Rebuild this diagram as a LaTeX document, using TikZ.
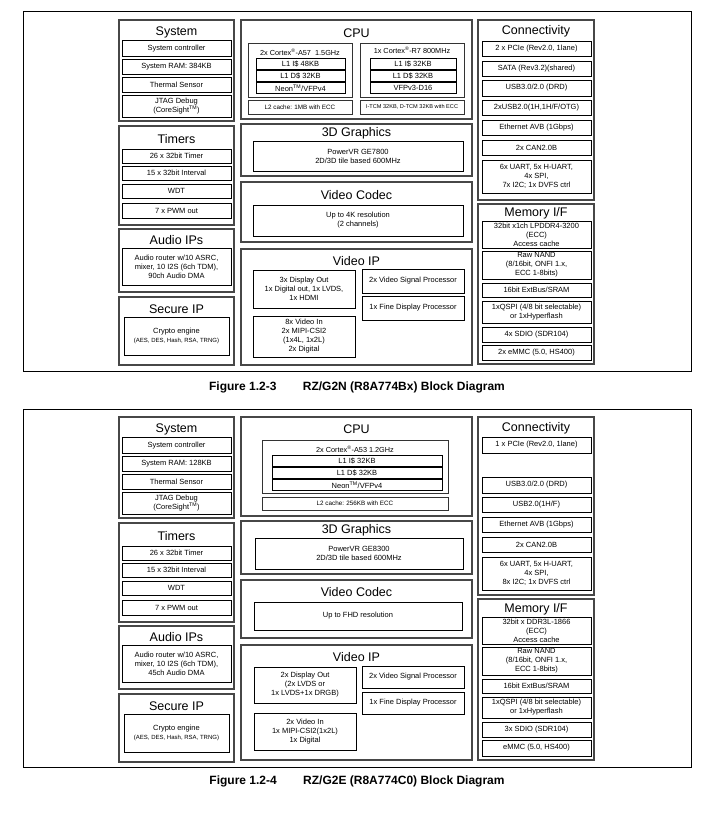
\documentclass[tikz,border=0pt]{standalone}
\usepackage{fontspec}
\setmainfont{Liberation Sans}
\tikzset{
 ibox/.style={draw=black,line width=0.9pt,inner sep=0pt,align=center,font=\fontsize{7.5}{9}\selectfont},
 cbox/.style={draw=black!72,line width=1.2pt},
 gbox/.style={draw=black!80,line width=0.8pt},
 frm/.style={draw=black,line width=0.8pt},
 ttl/.style={font=\fontsize{12.5}{14}\selectfont,inner sep=0pt},
 lbl/.style={font=\fontsize{7.3}{9}\selectfont,inner sep=0pt},
 smallt/.style={font=\fontsize{6.3}{7.5}\selectfont},
 tinyt/.style={font=\fontsize{5.6}{6.5}\selectfont},
 figcap/.style={font=\bfseries\fontsize{12}{14}\selectfont,inner sep=0pt},
}
% #1 options, #2 name, #3 x1, #4 y1, #5 x2, #6 y2, #7 text
\newcommand\bx[7][]{\node[ibox,#1,minimum width={(#5-#3)*1pt},minimum height={(#6-#4)*1pt}] (#2) at ({(#3+#5)/2},{(#4+#6)/2}) {#7};}
% left column: #1 suffix, #2 RAM, #3 DMA channels
\newcommand\leftcol[3]{%
 \bx[cbox]{sys#1}{119}{20}{234}{121}{}
 \node[ttl] (sysT#1) at (176.5,32.5) {System};
 \bx{sc#1}{122}{40.5}{231}{56}{System controller}
 \bx{ram#1}{122}{59}{231}{74}{System RAM: #2}
 \bx{th#1}{122}{77}{231}{92}{Thermal Sensor}
 \bx{jt#1}{122}{95}{231}{117}{JTAG Debug\\(CoreSight\textsuperscript{TM})}
 \bx[cbox]{tim#1}{119}{126}{234}{225}{}
 \node[ttl] (timT#1) at (176.5,139) {Timers};
 \bx{ta#1}{122}{149}{231}{163}{26 x 32bit Timer}
 \bx{tb#1}{122}{166}{231}{180}{15 x 32bit Interval}
 \bx{tc#1}{122}{184}{231}{198}{WDT}
 \bx{td#1}{122}{203}{231}{218}{7 x PWM out}
 \bx[cbox]{aud#1}{119}{229}{234}{292}{}
 \node[ttl] (audT#1) at (176.5,240.5) {Audio IPs};
 \bx{au#1}{122}{248}{231}{285}{Audio router w/10 ASRC,\\mixer, 10 I2S (6ch TDM),\\#3 Audio DMA}
 \bx[cbox]{sec#1}{119}{297}{234}{365}{}
 \node[ttl] (secT#1) at (176.5,309.5) {Secure IP};
 \bx{cr#1}{124}{317}{229}{355}{Crypto engine\\{\fontsize{6}{7.5}\selectfont(AES, DES, Hash, RSA, TRNG)}}
}
\begin{document}
\begin{tikzpicture}[x=1pt,y=-1pt]
\useasboundingbox (0,0) rectangle (714,815);
% ================= Diagram A =================
\bx[frm]{frameA}{23}{11}{691}{371}{}
\leftcol{A}{384KB}{90ch}
% CPU
\bx[cbox]{cpuA}{241}{20}{472}{119}{}
\node[ttl] (cpuTA) at (356.5,33) {CPU};
\bx[gbox]{a57A}{248}{43}{352}{97}{}
\node[lbl] (a57LA) at (300,52) {2x Cortex\textsuperscript{®}-A57\ \ 1.5GHz};
\bx{l1iA}{256}{58.5}{345}{69.5}{L1 I\$ 48KB}
\bx{l1dA}{256}{70.5}{345}{81.5}{L1 D\$ 32KB}
\bx{neonA}{256}{82.5}{345}{93.5}{Neon\textsuperscript{TM}/VFPv4}
\bx[gbox,smallt]{l2A}{248}{100}{352}{114}{L2 cache: 1MB with ECC}
\bx[gbox]{r7A}{360}{43}{464}{97}{}
\node[lbl] (r7LA) at (412,50.5) {1x Cortex\textsuperscript{®}-R7 800MHz};
\bx{r1iA}{370}{58.5}{456}{69.5}{L1 I\$ 32KB}
\bx{r1dA}{370}{70.5}{456}{81.5}{L1 D\$ 32KB}
\bx{vfpA}{370}{82.5}{456}{93.5}{VFPv3-D16}
\bx[gbox,tinyt]{tcmA}{360}{100}{464}{114}{I-TCM 32KB, D-TCM 32KB with ECC}
% 3D graphics
\bx[cbox]{gfxA}{241}{124}{472}{176}{}
\node[ttl] (gfxTA) at (356.5,133) {3D Graphics};
\bx{gpuA}{253}{141}{463}{171}{PowerVR GE7800\\2D/3D tile based 600MHz}
% Video codec
\bx[cbox]{vcA}{241}{182}{472}{242}{}
\node[ttl] (vcTA) at (356.5,195.5) {Video Codec};
\bx{vciA}{253}{205}{463}{236}{Up to 4K resolution\\(2 channels)}
% Video IP
\bx[cbox]{vipA}{241}{249}{472}{365}{}
\node[ttl] (vipTA) at (356.5,261) {Video IP};
\bx{doutA}{253}{270}{355}{308}{3x Display Out\\1x Digital out, 1x LVDS,\\1x HDMI}
\bx{vinA}{253}{316}{355}{357}{8x Video In\\2x MIPI-CSI2\\(1x4L, 1x2L)\\2x Digital}
\bx{vspA}{362}{269}{464}{293}{2x Video Signal Processor}
\bx{fdpA}{362}{296}{464}{320}{1x Fine Display Processor}
% Connectivity
\bx[cbox]{conA}{478}{20}{594}{200}{}
\node[ttl] (conTA) at (536,31.5) {Connectivity};
\bx{pcieA}{482}{41}{591}{56}{2 x PCIe (Rev2.0, 1lane)}
\bx{sataA}{482}{61}{591}{76}{SATA (Rev3.2)(shared)}
\bx{usb3A}{482}{80}{591}{96}{USB3.0/2.0 (DRD)}
\bx{usb2A}{482}{100}{591}{115}{2xUSB2.0(1H,1H/F/OTG)}
\bx{ethA}{482}{120}{591}{135}{Ethernet AVB (1Gbps)}
\bx{canA}{482}{140}{591}{155}{2x CAN2.0B}
\bx{uartA}{482}{160}{591}{193}{6x UART, 5x H-UART,\\4x SPI,\\7x I2C; 1x DVFS ctrl}
% Memory I/F
\bx[cbox]{memA}{478}{204}{594}{364}{}
\node[ttl] (memTA) at (536,213.5) {Memory I/F};
\bx{ddrA}{482}{221}{591}{248}{32bit x1ch LPDDR4-3200\\(ECC)\\Access cache}
\bx{nandA}{482}{251}{591}{279}{Raw NAND\\(8/16bit, ONFI 1.x,\\ECC 1-8bits)}
\bx{extA}{482}{283}{591}{297}{16bit ExtBus/SRAM}
\bx{qspiA}{482}{301}{591}{323}{1xQSPI (4/8 bit selectable)\\or 1xHyperflash}
\bx{sdioA}{482}{327}{591}{342}{4x SDIO (SDR104)}
\bx{emmcA}{482}{345}{591}{360}{2x eMMC (5.0, HS400)}
\node[figcap] (capA) at (357,387) {Figure 1.2-3\hspace{2.2em}RZ/G2N (R8A774Bx) Block Diagram};
% ================= Diagram B =================
\begin{scope}[yshift=-397pt]
\bx[frm]{frameB}{23}{12}{691}{370}{}
\leftcol{B}{128KB}{45ch}
% CPU
\bx[cbox]{cpuB}{241}{20}{472}{119}{}
\node[ttl] (cpuTB) at (356.5,32.5) {CPU};
\bx[gbox]{a53B}{262}{43}{448}{96}{}
\node[lbl] (a53LB) at (355,52) {2x Cortex\textsuperscript{®}-A53 1.2GHz};
\bx{l1iB}{272}{58.5}{442}{69.5}{L1 I\$ 32KB}
\bx{l1dB}{272}{70.5}{442}{81.5}{L1 D\$ 32KB}
\bx{neonB}{272}{82.5}{442}{93.5}{Neon\textsuperscript{TM}/VFPv4}
\bx[gbox,smallt]{l2B}{262}{100}{448}{113}{L2 cache: 256KB with ECC}
% 3D graphics
\bx[cbox]{gfxB}{241}{124}{472}{177}{}
\node[ttl] (gfxTB) at (356.5,133) {3D Graphics};
\bx{gpuB}{255}{141}{463}{172}{PowerVR GE8300\\2D/3D tile based 600MHz}
% Video codec
\bx[cbox]{vcB}{241}{183}{472}{241}{}
\node[ttl] (vcTB) at (356.5,195.5) {Video Codec};
\bx{vciB}{254}{205}{462}{233}{Up to FHD resolution}
% Video IP
\bx[cbox]{vipB}{241}{248}{472}{363}{}
\node[ttl] (vipTB) at (356.5,260.5) {Video IP};
\bx{doutB}{254}{270}{356}{306}{2x Display Out\\(2x LVDS or\\1x LVDS+1x DRGB)}
\bx{vinB}{254}{316}{356}{353}{2x Video In\\1x MIPI-CSI2(1x2L)\\1x Digital}
\bx{vspB}{362}{269}{464}{291}{2x Video Signal Processor}
\bx{fdpB}{362}{295}{464}{317}{1x Fine Display Processor}
% Connectivity
\bx[cbox]{conB}{478}{20}{594}{198}{}
\node[ttl] (conTB) at (536,31.5) {Connectivity};
\bx{pcieB}{482}{40}{591}{56}{1 x PCIe (Rev2.0, 1lane)}
\bx{usb3B}{482}{80}{591}{96}{USB3.0/2.0 (DRD)}
\bx{usb2B}{482}{100}{591}{115}{USB2.0(1H/F)}
\bx{ethB}{482}{120}{591}{135}{Ethernet AVB (1Gbps)}
\bx{canB}{482}{140}{591}{155}{2x CAN2.0B}
\bx{uartB}{482}{160}{591}{193}{6x UART, 5x H-UART,\\4x SPI,\\8x I2C; 1x DVFS ctrl}
% Memory I/F
\bx[cbox]{memB}{478}{202}{594}{363}{}
\node[ttl] (memTB) at (536,212) {Memory I/F};
\bx{ddrB}{482}{220}{591}{247}{32bit x DDR3L-1866\\(ECC)\\Access cache}
\bx{nandB}{482}{250}{591}{278}{Raw NAND\\(8/16bit, ONFI 1.x,\\ECC 1-8bits)}
\bx{extB}{482}{282}{591}{296}{16bit ExtBus/SRAM}
\bx{qspiB}{482}{300}{591}{321}{1xQSPI (4/8 bit selectable)\\or 1xHyperflash}
\bx{sdioB}{482}{325}{591}{340}{3x SDIO (SDR104)}
\bx{emmcB}{482}{343}{591}{359}{eMMC (5.0, HS400)}
\end{scope}
\node[figcap] (capB) at (357,781) {Figure 1.2-4\hspace{2.2em}RZ/G2E (R8A774C0) Block Diagram};
\end{tikzpicture}
\end{document}
